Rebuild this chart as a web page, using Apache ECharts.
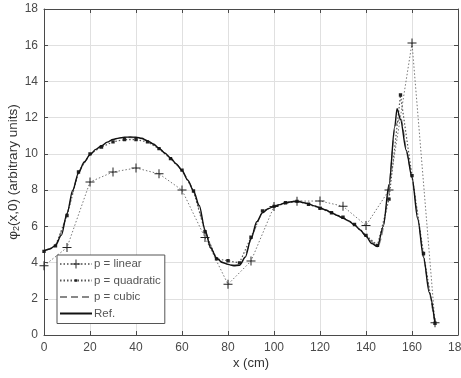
<!DOCTYPE html>
<html>
<head>
<meta charset="utf-8">
<script src="https://cdn.jsdelivr.net/npm/echarts@6/dist/echarts.min.js"></script>
<style>html,body{margin:0;padding:0;background:#fff}#c{width:461px;height:378px}</style>
</head>
<body>
<div id="c"></div>
<script>
// x positions (cm) and values (arbitrary units)
const linearX = [0,10,20,30,40,50,60,70,80,90,100,110,120,130,140,150,160,170];
const linearY = [3.82,4.83,8.45,9.0,9.22,8.9,8.0,5.38,2.8,4.08,7.1,7.39,7.4,7.11,6.05,8.0,16.12,0.68];

const quadX = [0,5,10,15,20,25,30,35,40,45,50,55,60,65,70,75,80,85,90,95,100,105,110,115,120,125,130,135,140,145,150,155,160,165,170];
const quadY = [4.62,4.92,6.6,9.0,10.0,10.38,10.66,10.79,10.79,10.66,10.29,9.74,9.1,7.95,5.7,4.2,4.1,3.98,5.4,6.85,7.1,7.3,7.38,7.22,7.0,6.75,6.5,6.1,5.5,4.95,7.5,13.25,8.8,4.5,0.65];

const cubicX = [0,5,10,15,20,25,30,35,40,45,50,55,60,65,70,75,80,85,90,95,100,105,110,115,120,125,130,135,140,145,150,152.5,155,157.5,160,165,170];
const cubicY = [4.65,4.95,6.7,8.95,9.95,10.42,10.78,10.9,10.9,10.72,10.3,9.76,9.08,7.95,5.8,4.25,3.92,3.88,5.3,6.75,7.1,7.3,7.38,7.24,7.03,6.75,6.45,6.08,5.45,4.9,8.2,11.4,12.0,10.2,8.7,4.35,0.65];

const refX = [0,2.5,5,7.5,10,12.5,15,17.5,20,22.5,25,27.5,30,32.5,35,37.5,40,42.5,45,47.5,50,52.5,55,57.5,60,62.5,65,67.5,70,72.5,75,77.5,80,82.5,85,87.5,90,92.5,95,97.5,100,102.5,105,107.5,110,112.5,115,117.5,120,122.5,125,127.5,130,132.5,135,137.5,140,142.5,145,147.5,150,152.5,153.5,155,157.5,160,162.5,165,167.5,170];
const refY = [4.65,4.75,4.95,5.5,6.7,8.0,8.95,9.55,9.95,10.25,10.45,10.65,10.8,10.87,10.92,10.93,10.92,10.86,10.72,10.55,10.32,10.05,9.78,9.45,9.08,8.55,7.95,7.15,5.8,4.8,4.25,4.0,3.9,3.82,3.85,4.3,5.3,6.25,6.75,6.98,7.1,7.2,7.3,7.36,7.38,7.32,7.24,7.13,7.03,6.9,6.75,6.6,6.45,6.3,6.08,5.8,5.45,5.05,4.88,6.0,8.3,11.5,12.5,11.9,10.2,8.7,6.4,4.3,2.35,0.65];

const xTicks = [0,20,40,60,80,100,120,140,160,180];
const yTicks = [0,2,4,6,8,10,12,14,16,18];

const pairs = (xs, ys) => xs.map((x, i) => [x, ys[i]]);
// plus marker
const plus = 'path://M4.45,0H5.55V4.45H10V5.55H5.55V10H4.45V5.55H0V4.45H4.45Z';
// small square inside a larger invisible frame (degenerate corner segments keep the box size)
const dot = 'path://M0,0L0.001,0Z M3.6,3.6H6.4V6.4H3.6Z M10,10L9.999,10Z';
// invisible symbol for line-only legend icons
const none = 'path://M0,0L0.001,0Z M10,10L9.999,10Z';

const axisCol = '#4a4a4a';
const font = 'Liberation Sans, Arial, sans-serif';
const labelStyle = {color: '#4a4a4a', fontSize: 12, fontFamily: font};

const chart = echarts.init(document.getElementById('c'), null, {renderer: 'canvas'});
chart.setOption({
  animation: false,
  backgroundColor: '#fff',
  grid: {left: 44, right: 3, top: 9, bottom: 43, containLabel: false, outerBoundsMode: 'none'},
  xAxis: [{
    type: 'value', min: xTicks[0], max: xTicks[xTicks.length - 1], interval: 20,
    name: 'x (cm)', nameLocation: 'middle', nameGap: 22, nameMoveOverlap: false,
    nameTextStyle: {color: '#333', fontSize: 13, fontFamily: font},
    axisLine: {show: true, lineStyle: {color: axisCol, width: 1}},
    axisTick: {show: true, inside: true, length: 4, lineStyle: {color: axisCol}},
    axisLabel: Object.assign({margin: 7, showMaxLabel: true}, labelStyle),
    splitLine: {show: true, lineStyle: {color: '#e0e0e0', width: 1}}
  }, {
    type: 'value', position: 'top', min: 0, max: 180, interval: 20,
    axisLine: {show: true, onZero: false, lineStyle: {color: axisCol, width: 1}},
    axisTick: {show: true, inside: true, length: 4, lineStyle: {color: axisCol}},
    axisLabel: {show: false}, splitLine: {show: false}
  }],
  yAxis: [{
    type: 'value', min: yTicks[0], max: yTicks[yTicks.length - 1], interval: 2,
    name: 'φ{sub|2}(x,0) (arbitrary units)', nameLocation: 'middle', nameGap: 23, nameRotate: 90,
    nameMoveOverlap: false,
    nameTextStyle: {color: '#333', fontSize: 13.5, fontFamily: font,
      rich: {sub: {fontSize: 9, fontFamily: font, verticalAlign: 'bottom', padding: [7, 0, 0, 0], color: '#333'}}},
    axisLine: {show: true, lineStyle: {color: axisCol, width: 1}},
    axisTick: {show: true, inside: true, length: 4, lineStyle: {color: axisCol}},
    axisLabel: Object.assign({margin: 6}, labelStyle),
    splitLine: {show: true, lineStyle: {color: '#e0e0e0', width: 1}}
  }, {
    type: 'value', position: 'right', min: 0, max: 18, interval: 2,
    axisLine: {show: true, onZero: false, lineStyle: {color: axisCol, width: 1}},
    axisTick: {show: true, inside: true, length: 4, lineStyle: {color: axisCol}},
    axisLabel: {show: false}, splitLine: {show: false}
  }],
  legend: {
    orient: 'vertical', left: 57, top: 255,
    backgroundColor: '#fff', borderColor: '#555', borderWidth: 1, borderRadius: 0,
    padding: [3, 4, 4, 2], itemGap: 4.5, itemWidth: 32, itemHeight: 11,
    textStyle: {color: '#555', fontSize: 11.5, fontFamily: font, padding: [0, 0, 0, -3]},
    data: ['p = linear', 'p = quadratic', 'p = cubic', 'Ref.']
  },
  series: [{
    name: 'p = linear', type: 'line', data: pairs(linearX, linearY),
    symbol: plus, symbolSize: 9, showAllSymbol: true,
    itemStyle: {color: '#222'},
    lineStyle: {color: '#777', width: 1, type: [1.5, 2]}, z: 3
  }, {
    name: 'p = quadratic', type: 'line', data: pairs(quadX, quadY),
    symbol: dot, symbolSize: 12, showAllSymbol: true,
    itemStyle: {color: '#222'},
    lineStyle: {color: '#555', width: 1.2, type: [1.5, 2]}, z: 4
  }, {
    name: 'p = cubic', type: 'line', data: pairs(cubicX, cubicY),
    symbol: none, showSymbol: false, smooth: 0.25,
    itemStyle: {color: '#888'},
    lineStyle: {color: '#888', width: 1.2, type: [7, 4]}, z: 2
  }, {
    name: 'Ref.', type: 'line', data: pairs(refX, refY),
    symbol: none, showSymbol: false, smooth: 0.3, smoothMonotone: 'x',
    itemStyle: {color: '#111'},
    lineStyle: {color: '#111', width: 1.4}, z: 5
  }]
});
</script>
</body>
</html>
